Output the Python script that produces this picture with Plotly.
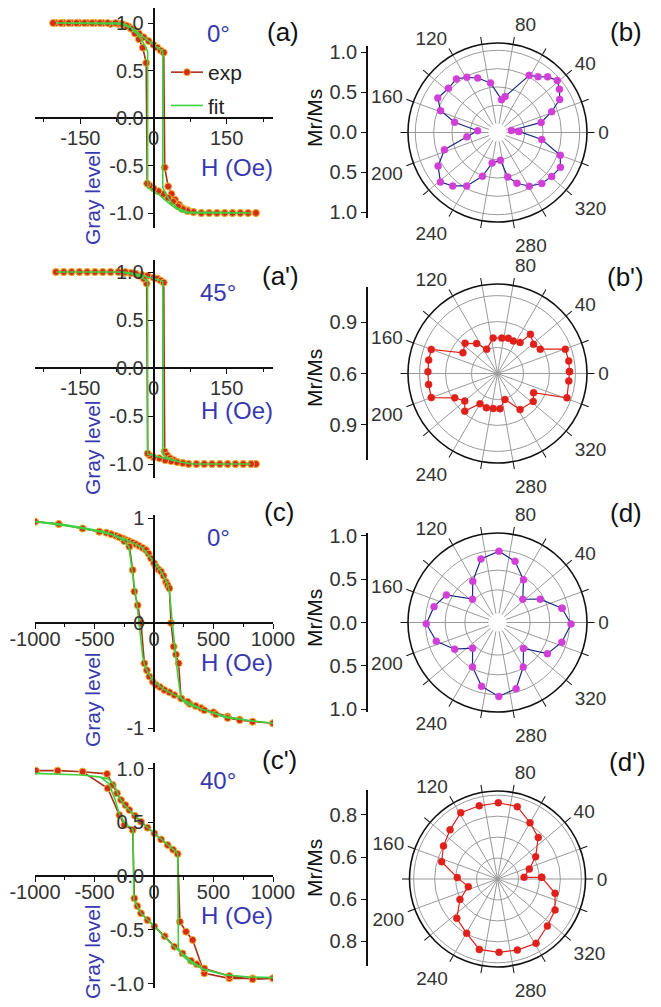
import plotly.graph_objects as go

W, H = 661, 1007
def fx(p):
    return p / W
def fy(p):
    return 1 - p / H

# ---------------- hysteresis data (H in Oe, gray level) ----------------
A_EXP_H_UP = [-200,-184,-168,-152,-136,-120,-104,-88,-72,-60,-50,-40,-30,-20,-10,0,8,15,21,23,30,37,44,52,60,70,82,98,114,130,146,162,178,194,210]
A_EXP_G_UP = [1.00,1.00,1.00,1.00,1.00,1.00,1.00,0.99,0.99,0.98,0.96,0.93,0.89,0.85,0.81,0.77,0.74,0.71,0.69,-0.52,-0.72,-0.80,-0.86,-0.91,-0.95,-0.97,-0.99,-1.00,-1.00,-1.00,-1.00,-1.00,-1.00,-1.00,-1.00]
A_EXP_H_DN = [210,194,178,162,146,130,114,98,82,70,60,50,40,30,20,10,0,-8,-13,-15,-22,-30,-38,-46,-55,-65,-78,-94,-110,-126,-142,-158,-174,-190,-206]
A_EXP_G_DN = [-1,-1,-1,-1,-1,-1,-1,-1,-0.99,-0.98,-0.96,-0.93,-0.88,-0.84,-0.80,-0.77,-0.74,-0.71,-0.69,0.58,0.74,0.83,0.89,0.94,0.97,0.99,1,1,1,1,1,1,1,1,1]
A_FIT_H_UP = [-200,-70,-55,-40,-25,-10,5,19,19,25,35,50,70,200]
A_FIT_G_UP = [1,1,0.98,0.93,0.87,0.81,0.75,0.70,-0.73,-0.80,-0.88,-0.95,-0.99,-1]
A_FIT_H_DN = [200,70,55,40,25,10,-5,-12,-12,-22,-33,-48,-65,-200]
A_FIT_G_DN = [-1,-1,-0.98,-0.93,-0.87,-0.80,-0.75,-0.73,0.70,0.80,0.88,0.95,0.99,1]

AP_EXP_H_UP = [-200,-184,-168,-152,-136,-120,-104,-88,-72,-60,-48,-36,-24,-12,0,8,15,21,23,28,34,42,50,60,72,88,104,120,136,152,168,184,200,210]
AP_EXP_G_UP = [1,1,1,1,1,1,1,1,1,0.99,0.99,0.98,0.97,0.96,0.94,0.93,0.91,0.89,-0.87,-0.91,-0.94,-0.96,-0.98,-0.99,-1,-1,-1,-1,-1,-1,-1,-1,-1,-1]
AP_EXP_H_DN = [210,200,184,168,152,136,120,104,88,72,60,48,36,24,12,0,-8,-12,-14,-20,-28,-36,-46,-58,-72,-88,-104,-120,-136,-152,-168,-184,-200]
AP_EXP_G_DN = [-1,-1,-1,-1,-1,-1,-1,-1,-1,-1,-0.99,-0.98,-0.97,-0.96,-0.94,-0.93,-0.91,-0.89,0.88,0.93,0.96,0.98,0.99,1,1,1,1,1,1,1,1,1,1]
AP_FIT_H_UP = [-200,-60,-35,-10,10,19,19,35,55,80,200]
AP_FIT_G_UP = [1,1,0.98,0.95,0.92,0.90,-0.90,-0.95,-0.98,-1,-1]
AP_FIT_H_DN = [200,80,55,30,0,-12,-12,-25,-45,-70,-200]
AP_FIT_G_DN = [-1,-1,-0.98,-0.95,-0.92,-0.90,0.90,0.95,0.98,1,1]

C_EXP_H_UP = [-1000,-800,-600,-460,-400,-360,-320,-290,-260,-235,-205,-180,-150,-123,-95,-67,-45,-25,0,17,38,59,80,101,115,129,143,165,185,207,227,300,395,500,619,720,829,1000]
C_EXP_G_UP = [0.965,0.943,0.90,0.87,0.86,0.845,0.83,0.816,0.805,0.79,0.778,0.765,0.75,0.733,0.715,0.695,0.66,0.615,0.57,0.536,0.51,0.49,0.45,0.39,0.36,0.33,0.0,-0.225,-0.30,-0.384,-0.717,-0.77,-0.81,-0.85,-0.89,-0.92,-0.94,-0.955]
C_EXP_H_DN = [1000,829,720,619,520,423,350,283,230,171,130,87,50,17,-10,-39,-60,-81,-109,-137,-165,-179,-207,-250,-290,-360,-460,-600,-800,-1000]
C_EXP_G_DN = [-0.955,-0.94,-0.925,-0.905,-0.87,-0.83,-0.79,-0.75,-0.72,-0.686,-0.66,-0.638,-0.61,-0.59,-0.56,-0.51,-0.45,-0.384,0.0,0.17,0.30,0.505,0.727,0.78,0.816,0.845,0.87,0.90,0.943,0.965]
C_FIT_H_UP = [-1000,-800,-600,-400,-250,-100,0,60,110,130,150,175,200,225,240,300,400,600,800,1000]
C_FIT_G_UP = [0.965,0.945,0.91,0.865,0.80,0.72,0.58,0.49,0.38,0.30,0.05,-0.25,-0.50,-0.70,-0.74,-0.78,-0.82,-0.89,-0.93,-0.955]
C_FIT_H_DN = [1000,800,600,400,230,80,-10,-75,-95,-115,-140,-165,-190,-212,-260,-350,-500,-700,-1000]
C_FIT_G_DN = [-0.955,-0.93,-0.90,-0.82,-0.72,-0.63,-0.55,-0.42,-0.32,-0.1,0.15,0.35,0.55,0.73,0.79,0.84,0.88,0.92,0.965]

CP_EXP_H_UP = [-1000,-810,-600,-395,-347,-310,-277,-240,-207,-160,-109,-55,3,60,115,160,199,218,269,325,423,633,829,1000]
CP_EXP_G_UP = [0.98,0.98,0.97,0.95,0.847,0.77,0.707,0.66,0.614,0.56,0.505,0.45,0.397,0.34,0.288,0.245,0.205,-0.425,-0.518,-0.595,-0.905,-0.952,-0.952,-0.952]
CP_EXP_H_DN = [1000,829,633,423,360,311,240,171,90,3,-55,-109,-140,-165,-179,-249,-291,-389,-599,-809,-992]
CP_EXP_G_DN = [-0.952,-0.96,-0.93,-0.86,-0.82,-0.788,-0.72,-0.657,-0.56,-0.47,-0.41,-0.347,-0.28,-0.208,0.428,0.474,0.567,0.816,0.97,0.98,0.98]
CP_FIT_H_UP = [-1000,-800,-600,-450,-380,-330,-292,-250,-207,-109,3,115,199,205,240,300,400,600,800,1000]
CP_FIT_G_UP = [0.955,0.95,0.94,0.92,0.90,0.84,0.73,0.66,0.61,0.50,0.40,0.29,0.21,-0.67,-0.74,-0.80,-0.86,-0.92,-0.94,-0.945]
CP_FIT_H_DN = [1000,800,600,420,311,171,3,-109,-170,-176,-210,-250,-292,-330,-380,-450,-600,-800,-1000]
CP_FIT_G_DN = [-0.945,-0.94,-0.92,-0.87,-0.79,-0.66,-0.47,-0.35,-0.22,0.43,0.46,0.50,0.58,0.72,0.86,0.92,0.94,0.95,0.955]

# ---------------- polar data (angle in degrees, Mr/Ms) ----------------
B_THETA = [3,8,13,21,28,35,41,48,54,61,78,83,98,110,119,127.5,138,150,159,166.5,175,188,198,209.5,221,230,240,251,260,276,283,291,300.6,311,321,331,340,351]
B_R = [0.17,0.07,0.49,0.67,0.84,0.91,0.96,0.90,0.82,0.77,0.38,0.33,0.56,0.67,0.74,0.80,0.78,0.82,0.71,0.48,0.15,0.30,0.64,0.81,0.91,0.83,0.72,0.51,0.30,0.26,0.50,0.62,0.73,0.80,0.83,0.86,0.79,0.49]

BP_THETA = [1.5,10,19.7,29.6,39,50,54,64,73,83,97,114,125,137,149,160,169,178.5,189,200,209.6,220,229,240,252,263,274,286,302,322,332,340.7,354]
BP_R = [1.016,1.018,1.016,0.884,0.868,0.896,0.822,0.809,0.813,0.806,0.806,0.754,0.811,0.856,0.833,1.007,1.005,1.002,1.003,1.007,0.884,0.847,0.888,0.802,0.808,0.804,0.804,0.756,0.846,0.862,0.836,1.025,1.014]

D_THETA = [12.5,28.6,42.6,58.7,74,88.8,104.6,121,137,151.6,166,181,197,212,226,240.6,256,271,285.7,300,315,328,343,358.8]
D_R = [0.723,0.503,0.322,0.520,0.692,0.789,0.718,0.495,0.320,0.622,0.715,0.789,0.697,0.525,0.34,0.532,0.72,0.823,0.757,0.538,0.351,0.632,0.739,0.818]

DP_THETA = [2.2,3.6,17.4,30.3,45.6,60,74.7,89.4,104,119,134,148.6,162.8,178,194.7,208.5,224,240.4,255.5,271.2,285.6,300.9,316.7,331.7,346]
DP_R = [0.711,0.627,0.659,0.711,0.778,0.810,0.858,0.864,0.860,0.862,0.826,0.802,0.779,0.692,0.644,0.704,0.770,0.798,0.847,0.850,0.852,0.858,0.827,0.812,0.783]

ANGLE_TICKS = list(range(0, 360, 20))
ANGLE_LABELS = [str(a) if a % 40 == 0 else "" for a in ANGLE_TICKS]

FONT = "Liberation Sans, Arial, sans-serif"
BLUE = "#3838b0"
EXP_LINE = "#a8321c"
EXP_MARK = "#d8281a"
EXP_EDGE = "#e8b838"
FIT_COL = "#3fd03f"
POLAR_MAG = "#d23ed8"
POLAR_NAVY = "#1c2a80"
POLAR_RED = "#e0201a"

fig = go.Figure()
shapes = []

# ---------------- left panels ----------------
left = [
    dict(name="a", eu=(A_EXP_H_UP, A_EXP_G_UP), ed=(A_EXP_H_DN, A_EXP_G_DN),
         fu=(A_FIT_H_UP, A_FIT_G_UP), fd=(A_FIT_H_DN, A_FIT_G_DN),
         xr=[-243, 245], xt=[-150, 0, 150], xtt=["-150", "0", "150"], xm=[-225, -75, 75, 225], xso=-3,
         ytop=8, ybot=228, y0=118, ys=95, yt=[-1, -0.5, 0, 0.5, 1], ytt=["-1.0", "-0.5", "0.0", "0.5", "1.0"]),
    dict(name="a'", eu=(AP_EXP_H_UP, AP_EXP_G_UP), ed=(AP_EXP_H_DN, AP_EXP_G_DN),
         fu=(AP_FIT_H_UP, AP_FIT_G_UP), fd=(AP_FIT_H_DN, AP_FIT_G_DN),
         xr=[-243, 245], xt=[-150, 0, 150], xtt=["-150", "0", "150"], xm=[-225, -75, 75, 225], xso=-3,
         ytop=260, ybot=478, y0=368, ys=96, yt=[-1, -0.5, 0, 0.5, 1], ytt=["-1.0", "-0.5", "0.0", "0.5", "1.0"]),
    dict(name="c", eu=(C_EXP_H_UP, C_EXP_G_UP), ed=(C_EXP_H_DN, C_EXP_G_DN),
         fu=(C_FIT_H_UP, C_FIT_G_UP), fd=(C_FIT_H_DN, C_FIT_G_DN),
         xr=[-1000, 1000], xt=[-1000, -500, 0, 500, 1000], xtt=["-1000", "-500", "0", "500", "1000"], xm=[-750, -250, 250, 750], xso=-7,
         ytop=515, ybot=732, y0=623, ys=105, yt=[-1, 0, 1], ytt=["-1", "0", "1"]),
    dict(name="c'", eu=(CP_EXP_H_UP, CP_EXP_G_UP), ed=(CP_EXP_H_DN, CP_EXP_G_DN),
         fu=(CP_FIT_H_UP, CP_FIT_G_UP), fd=(CP_FIT_H_DN, CP_FIT_G_DN),
         xr=[-1000, 1000], xt=[-1000, -500, 0, 500, 1000], xtt=["-1000", "-500", "0", "500", "1000"], xm=[-750, -250, 250, 750], xso=-7,
         ytop=763, ybot=988, y0=876, ys=107.5, yt=[-1, -0.5, 0, 0.5, 1], ytt=["-1.0", "-0.5", "0.0", "0.5", "1.0"]),
]

XL, XR = 35, 273
for i, p in enumerate(left):
    k = i + 1
    xa = "x" if k == 1 else f"x{k}"
    ya = "y" if k == 1 else f"y{k}"
    exp_h = list(p["eu"][0]) + list(p["ed"][0])
    exp_g = list(p["eu"][1]) + list(p["ed"][1])
    fit_h = list(p["fu"][0]) + list(p["fd"][0])
    fit_g = list(p["fu"][1]) + list(p["fd"][1])
    fig.add_trace(go.Scatter(
        x=exp_h, y=exp_g, mode="lines+markers", name="exp", xaxis=xa, yaxis=ya,
        line=dict(color=EXP_LINE, width=1.6),
        marker=dict(symbol="circle", size=7, color=EXP_MARK, line=dict(color=EXP_EDGE, width=1)),
        showlegend=(k == 1), legendgroup="exp"))
    fig.add_trace(go.Scatter(
        x=fit_h, y=fit_g, mode="lines", name="fit", xaxis=xa, yaxis=ya,
        line=dict(color=FIT_COL, width=1.6), showlegend=(k == 1), legendgroup="fit"))
    yr = [-(p["ybot"] - p["y0"]) / p["ys"], (p["y0"] - p["ytop"]) / p["ys"]]
    x0frac = (0 - p["xr"][0]) / (p["xr"][1] - p["xr"][0])
    xpos = fx(XL + x0frac * (XR - XL))
    axis_common = dict(showline=True, linecolor="#111", linewidth=1.5, ticks="outside",
                       ticklen=5, tickwidth=1.3, tickcolor="#111", showgrid=False, zeroline=False,
                       automargin=False,
                       tickfont=dict(family=FONT, size=20, color="#333"))
    fig.update_layout(**{
        ("xaxis" if k == 1 else f"xaxis{k}"): dict(
            domain=[fx(XL), fx(XR)], range=p["xr"], anchor="free", position=fy(p["y0"]),
            tickmode="array", tickvals=p["xt"], ticktext=p["xtt"], ticklabelstandoff=p["xso"],
            minor=dict(tickmode="array", tickvals=p["xm"], ticks="outside", ticklen=3, tickcolor="#111"),
            **axis_common),
        ("yaxis" if k == 1 else f"yaxis{k}"): dict(
            domain=[fy(p["ybot"]), fy(p["ytop"])], range=yr, anchor="free", position=xpos,
            tickmode="array", tickvals=p["yt"], ticktext=p["ytt"], **axis_common),
    })

# ---------------- polar panels ----------------
polars = [
    dict(th=B_THETA, r=B_R, cy=132.5, R=89.5, rr=[0, 1.1], hole=0.1, rt=[0.25, 0.5, 0.75, 1.0],
         mk=POLAR_MAG, ln=POLAR_NAVY,
         ad=(46, 218), ar=1.075, at=[-1, -0.5, 0, 0.5, 1], att=["1.0", "0.5", "0.0", "0.5", "1.0"]),
    dict(th=BP_THETA, r=BP_R, cy=373.5, R=89.5, rr=[0.6, 1.117], hole=0.0, rt=[0.75, 0.9, 1.05],
         mk=POLAR_RED, ln=POLAR_RED,
         ad=(287, 460), ar=0.504, at=[-0.3, 0, 0.3], att=["0.9", "0.6", "0.9"]),
    dict(th=D_THETA, r=D_R, cy=622.5, R=89.5, rr=[0, 1.02], hole=0.1, rt=[0.3, 0.55, 0.8],
         mk=POLAR_MAG, ln=POLAR_NAVY,
         ad=(533, 712), ar=1.03, at=[-1, -0.5, 0, 0.5, 1], att=["1.0", "0.5", "0.0", "0.5", "1.0"]),
    dict(th=DP_THETA, r=DP_R, cy=879, R=88, rr=[0.5, 0.92], hole=0.0, rt=[0.6, 0.7, 0.8, 0.9],
         mk=POLAR_RED, ln=POLAR_RED,
         ad=(790, 966), ar=0.419, at=[-0.3, -0.1, 0.1, 0.3], att=["0.8", "0.6", "0.6", "0.8"]),
]
CX = 497.5
for i, p in enumerate(polars):
    k = i + 1
    pname = "polar" if k == 1 else f"polar{k}"
    th = list(p["th"]) + [p["th"][0]]
    rr = list(p["r"]) + [p["r"][0]]
    fig.add_trace(go.Scatterpolar(
        theta=th, r=rr, mode="lines+markers", subplot=pname, showlegend=False,
        line=dict(color=p["ln"], width=1.2),
        marker=dict(symbol="circle", size=7, color=p["mk"], line=dict(color=p["mk"], width=0.5))))
    fig.update_layout(**{pname: dict(
        domain=dict(x=[fx(CX - p["R"]), fx(CX + p["R"])], y=[fy(p["cy"] + p["R"]), fy(p["cy"] - p["R"])]),
        bgcolor="white", hole=p["hole"],
        angularaxis=dict(rotation=0, direction="counterclockwise", tickmode="array",
                         tickvals=ANGLE_TICKS, ticktext=ANGLE_LABELS, ticks="outside", ticklen=7,
                         tickcolor="#111", tickwidth=1.3, showline=False,
                         gridcolor="#9a9a9a", gridwidth=1,
                         tickfont=dict(family=FONT, size=19, color="#333")),
        radialaxis=dict(range=p["rr"], tickmode="array", tickvals=p["rt"], showticklabels=False,
                        ticks="", showline=False, gridcolor="#9a9a9a", gridwidth=1),
    )})
    # outer black rim of the polar frame
    shapes.append(dict(type="circle", xref="paper", yref="paper",
                       x0=fx(CX - p["R"]), x1=fx(CX + p["R"]),
                       y0=fy(p["cy"] + p["R"]), y1=fy(p["cy"] - p["R"]),
                       line=dict(color="#111", width=1.6), fillcolor="rgba(0,0,0,0)", layer="above"))
    # vertical Mr/Ms scale at left of each polar plot
    kk = 4 + k
    fig.add_trace(go.Scatter(x=[None], y=[None], xaxis=f"x{kk}", yaxis=f"y{kk}", showlegend=False,
                             hoverinfo="skip"))
    fig.update_layout(**{
        f"xaxis{kk}": dict(domain=[fx(360), fx(370)], visible=False, anchor=f"y{kk}", range=[0, 1]),
        f"yaxis{kk}": dict(domain=[fy(p["ad"][1]), fy(p["ad"][0])], range=[-p["ar"], p["ar"]],
                           anchor="free", position=fx(367), tickmode="array", tickvals=p["at"],
                           ticktext=p["att"], showline=True, linecolor="#111", linewidth=1.5,
                           ticks="outside", ticklen=5, tickcolor="#111", showgrid=False, zeroline=False,
                           automargin=False,
                           tickfont=dict(family=FONT, size=20, color="#333")),
    })

# ---------------- text annotations ----------------
ann = []
def txt(t, x, y, size, color, angle=0):
    ann.append(dict(text=t, x=fx(x), y=fy(y), xref="paper", yref="paper", showarrow=False,
                    xanchor="center", yanchor="middle", textangle=angle,
                    font=dict(family=FONT, size=size, color=color)))

for t, y in [("0°", 33), ("45°", 292), ("0°", 537), ("40°", 780)]:
    txt(t, 218, y, 24, BLUE)
for y in [167, 410, 662, 915]:
    txt("H (Oe)", 237, y, 24, BLUE)
for y in [198, 448, 700, 952]:
    txt("Gray level", 92, y, 21, BLUE, -90)
for t, x, y in [("(a)", 283, 32), ("(a')", 280, 276), ("(c)", 279, 512), ("(c')", 279, 760),
                ("(b)", 626, 32), ("(b')", 625, 277), ("(d)", 626, 513), ("(d')", 627, 762)]:
    txt(t, x, y, 26, "#111")
for y in [118, 378, 618, 868]:
    txt("Mr/Ms", 314, y, 21, "#111", -90)

fig.update_layout(
    width=W, height=H, margin=dict(l=0, r=0, t=0, b=0, autoexpand=False),
    paper_bgcolor="white", plot_bgcolor="rgba(0,0,0,0)",
    annotations=ann, shapes=shapes,
    legend=dict(x=fx(166), y=fy(52), xanchor="left", yanchor="top", bgcolor="rgba(0,0,0,0)",
                font=dict(family=FONT, size=21, color="#222"), tracegroupgap=3, itemwidth=32,
                traceorder="grouped"),
    font=dict(family=FONT),
)

fig.write_html("out.html")
